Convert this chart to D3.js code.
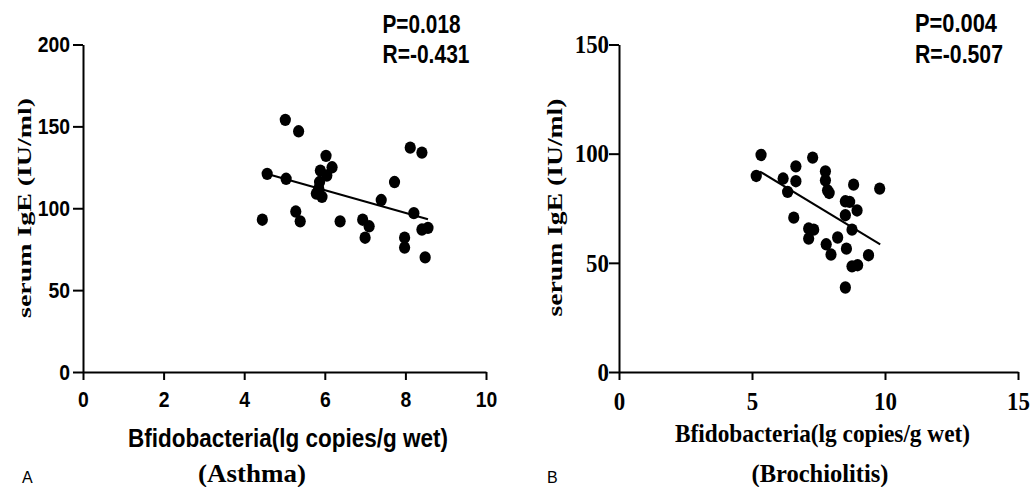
<!DOCTYPE html>
<html>
<head>
<meta charset="utf-8">
<script src="https://cdn.jsdelivr.net/npm/d3@7"></script>
<style>
  html, body { margin: 0; padding: 0; background: #fff; }
  svg { display: block; }
</style>
</head>
<body>
<svg id="chart" width="1033" height="487"></svg>
<script>
// ---- Panel A: asthma ----
const asthmaX = [4.45, 4.57, 5.02, 5.04, 5.35, 5.28, 5.39, 5.79, 5.89, 5.87, 5.93, 5.85, 6.03, 6.18, 6.05,
                 6.38, 6.94, 7.10, 7.00, 7.40, 7.73, 8.12, 8.41, 8.21, 7.98, 7.98, 8.41, 8.56, 8.49];
const asthmaY = [93, 121, 154, 118, 147, 98, 92, 109, 123, 116, 107, 112, 132, 125, 120,
                 92, 93, 89, 82, 105, 116, 137, 134, 97, 82, 76, 87, 88, 70];
const asthmaFitX = [4.6, 8.56];
const asthmaFitY = [120.8, 93.3];
const asthmaXTicks = [0, 2, 4, 6, 8, 10];
const asthmaYTicks = [0, 50, 100, 150, 200];
const asthmaStats = ["P=0.018", "R=-0.431"];

// ---- Panel B: bronchiolitis ----
const bronchX = [5.34, 5.16, 7.28, 6.65, 6.17, 6.65, 6.34, 7.76, 7.76, 7.84, 7.90, 8.82, 9.80, 8.51, 8.67,
                 8.95, 8.51, 6.57, 8.76, 7.13, 7.32, 7.13, 8.22, 7.79, 7.97, 8.55, 9.38, 8.76, 8.97, 8.51];
const bronchY = [99.4, 89.8, 98.2, 94.2, 88.6, 87.4, 82.5, 91.9, 87.8, 83.2, 82.0, 85.8, 84.0, 78.2, 77.9,
                 74.0, 71.8, 70.7, 65.2, 65.7, 65.2, 61.1, 61.6, 58.5, 53.8, 56.5, 53.5, 48.4, 48.9, 38.7];
const bronchFitX = [5.3, 9.82];
const bronchFitY = [91.8, 58.5];
const bronchXTicks = [0, 5, 10, 15];
const bronchYTicks = [0, 50, 100, 150];
const bronchStats = ["P=0.004", "R=-0.507"];

const xTitle = "Bfidobacteria(lg copies/g wet)";
const yTitle = "serum IgE (IU/ml)";

const ARIAL = "Liberation Sans, Arial, Helvetica, sans-serif";
const TIMES = "Liberation Serif, 'Times New Roman', Times, serif";

const svg = d3.select("#chart");

// squeeze a text horizontally to a fraction of its natural width
function squeeze(sel, k) {
  sel.each(function () {
    const w = this.getComputedTextLength();
    this.setAttribute("textLength", w * k);
    this.setAttribute("lengthAdjust", "spacingAndGlyphs");
  });
}
function fitWidth(sel, w) {
  sel.attr("textLength", w).attr("lengthAdjust", "spacingAndGlyphs");
}

function drawPanel(cfg) {
  const x = d3.scaleLinear().domain(cfg.xDomain).range([cfg.left, cfg.right]);
  const y = d3.scaleLinear().domain(cfg.yDomain).range([cfg.bottom, cfg.top]);
  const g = svg.append("g");

  // axes
  const ax = g.append("g")
    .attr("transform", `translate(0,${cfg.bottom})`)
    .call(d3.axisBottom(x).tickValues(cfg.xTicks).tickSizeInner(8).tickSizeOuter(0).tickPadding(cfg.xPad));
  const ay = g.append("g")
    .attr("transform", `translate(${cfg.left},0)`)
    .call(d3.axisLeft(y).tickValues(cfg.yTicks).tickSizeInner(10).tickSizeOuter(0).tickPadding(cfg.yPad));

  [ax, ay].forEach(a => {
    a.select(".domain").attr("stroke", "#000").attr("stroke-width", 2);
    a.selectAll(".tick line").attr("stroke", "#000").attr("stroke-width", 2);
    a.selectAll("text")
      .attr("fill", "#000")
      .attr("font-family", cfg.tickFont)
      .attr("font-weight", "bold")
      .attr("font-size", cfg.tickSize);
  });
  ax.selectAll("text").attr("dy", "0.71em");
  squeeze(ax.selectAll("text"), cfg.tickSqueeze);
  squeeze(ay.selectAll("text"), cfg.tickSqueeze);

  // regression line
  const fit = cfg.fitX.map((v, i) => [v, cfg.fitY[i]]);
  g.append("path")
    .datum(fit)
    .attr("fill", "none")
    .attr("stroke", "#000")
    .attr("stroke-width", 2)
    .attr("d", d3.line().x(d => x(d[0])).y(d => y(d[1])));

  // data points
  g.append("g").selectAll("ellipse")
    .data(cfg.xs.map((v, i) => [v, cfg.ys[i]]))
    .join("ellipse")
    .attr("cx", d => x(d[0]))
    .attr("cy", d => y(d[1]))
    .attr("rx", 5.6)
    .attr("ry", 6.2)
    .attr("fill", "#000");

  // statistics
  cfg.stats.forEach((s, i) => {
    g.append("text")
      .attr("x", cfg.statX)
      .attr("y", cfg.statY[i])
      .attr("font-family", ARIAL)
      .attr("font-weight", "bold")
      .attr("font-size", 25)
      .attr("fill", "#000")
      .text(s)
      .call(fitWidth, cfg.statW[i]);
  });

  // x title
  g.append("text")
    .attr("x", cfg.xTitleX)
    .attr("y", cfg.xTitleY)
    .attr("text-anchor", "middle")
    .attr("font-family", cfg.xTitleFont)
    .attr("font-weight", "bold")
    .attr("font-size", cfg.xTitleSize)
    .attr("fill", "#000")
    .text(xTitle)
    .call(fitWidth, cfg.xTitleW);

  // y title
  g.append("text")
    .attr("transform", `translate(${cfg.yTitleX},${cfg.yTitleY}) rotate(-90)`)
    .attr("text-anchor", "middle")
    .attr("font-family", TIMES)
    .attr("font-weight", "bold")
    .attr("font-size", cfg.yTitleSize)
    .attr("fill", "#000")
    .text(yTitle)
    .call(fitWidth, cfg.yTitleW);

  // group caption
  g.append("text")
    .attr("x", cfg.capX)
    .attr("y", 482)
    .attr("text-anchor", "middle")
    .attr("font-family", TIMES)
    .attr("font-weight", "bold")
    .attr("font-size", 26)
    .attr("fill", "#000")
    .text(cfg.caption)
    .call(fitWidth, cfg.capW);

  // panel letter
  g.append("text")
    .attr("x", cfg.letterX)
    .attr("y", 483)
    .attr("font-family", ARIAL)
    .attr("font-size", 16)
    .attr("fill", "#000")
    .text(cfg.letter);
}

drawPanel({
  xs: asthmaX, ys: asthmaY, fitX: asthmaFitX, fitY: asthmaFitY,
  xDomain: [0, 10], yDomain: [0, 200], xTicks: asthmaXTicks, yTicks: asthmaYTicks,
  left: 83, right: 486, top: 44.5, bottom: 372,
  tickFont: ARIAL, tickSize: 22, tickSqueeze: 0.88, xPad: 11, yPad: 3,
  stats: asthmaStats, statX: 382.5, statY: [33, 62.5], statW: [78, 87],
  xTitleX: 288, xTitleY: 447, xTitleFont: ARIAL, xTitleSize: 25, xTitleW: 320,
  yTitleX: 31, yTitleY: 208, yTitleSize: 19, yTitleW: 220,
  caption: "(Asthma)", capX: 252, capW: 108,
  letter: "A", letterX: 22
});

drawPanel({
  xs: bronchX, ys: bronchY, fitX: bronchFitX, fitY: bronchFitY,
  xDomain: [0, 15], yDomain: [0, 150], xTicks: bronchXTicks, yTicks: bronchYTicks,
  left: 619, right: 1018, top: 44.5, bottom: 372,
  tickFont: TIMES, tickSize: 26, tickSqueeze: 0.88, xPad: 12, yPad: 0,
  stats: bronchStats, statX: 915, statY: [32, 63], statW: [82, 88],
  xTitleX: 822.5, xTitleY: 441.5, xTitleFont: TIMES, xTitleSize: 26, xTitleW: 295,
  yTitleX: 562, yTitleY: 207.5, yTitleSize: 20, yTitleW: 218,
  caption: "(Brochiolitis)", capX: 820, capW: 137,
  letter: "B", letterX: 547
});
</script>
</body>
</html>
